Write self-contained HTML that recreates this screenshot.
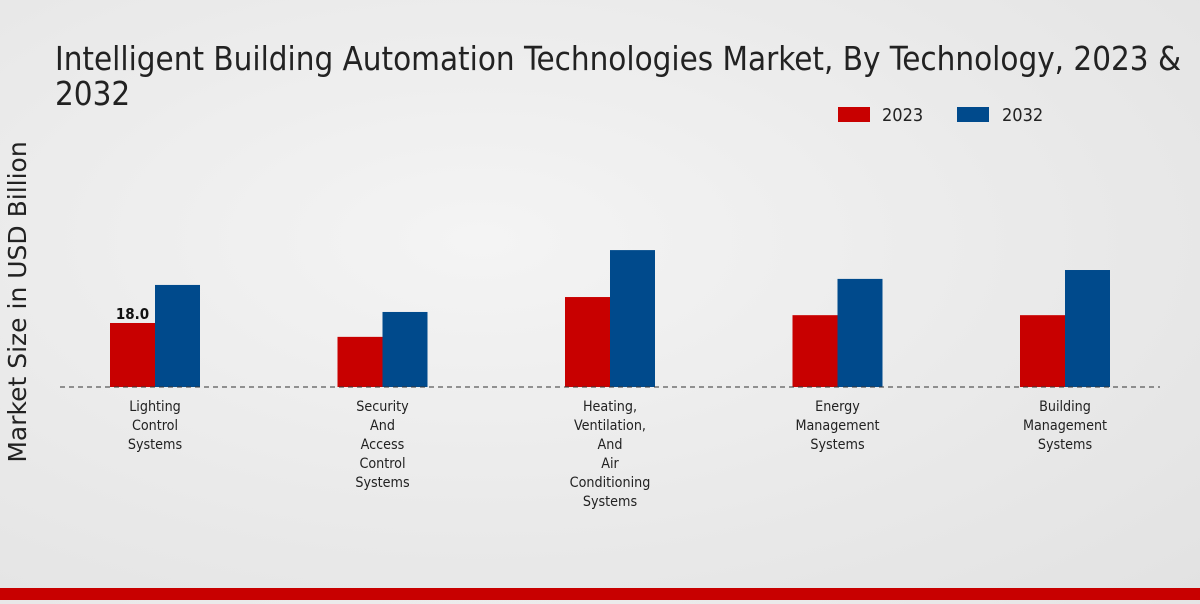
<!DOCTYPE html>
<html><head><meta charset="utf-8">
<style>
html,body{margin:0;padding:0;}
body{width:1200px;height:600px;overflow:hidden;background:radial-gradient(ellipse at 40% 40%,#f4f4f4 0%,#e9e9e9 60%,#e2e2e2 100%);font-family:"DejaVu Sans Condensed","DejaVu Sans","Liberation Sans",sans-serif;font-stretch:condensed;}
svg text{font-family:"DejaVu Sans Condensed","DejaVu Sans","Liberation Sans",sans-serif;font-stretch:condensed;}
</style></head>
<body>
<svg id="chart" width="1200" height="600" xmlns="http://www.w3.org/2000/svg">
<text x="55" y="70" font-size="32.85" fill="#222">Intelligent Building Automation Technologies Market, By Technology, 2023 &amp;</text>
<text x="55" y="105" font-size="32.85" fill="#222">2032</text>
<text transform="translate(26,302) rotate(-90)" text-anchor="middle" font-size="25" fill="#222" style="font-family:'DejaVu Sans',sans-serif;font-stretch:normal">Market Size in USD Billion</text>
<g>
<rect x="838" y="107" width="32" height="15" fill="#c80000"/>
<text x="882" y="121" font-size="18" fill="#222">2023</text>
<rect x="957" y="107" width="32" height="15" fill="#004a8c"/>
<text x="1002" y="121" font-size="18" fill="#222">2032</text>
</g>
<g id="bars"></g>
<line x1="60" y1="387" x2="1160" y2="387" stroke="#333" stroke-width="1" stroke-dasharray="5,4"/>
<g id="labels"></g>
<rect x="0" y="588" width="1200" height="12" fill="#c80000"/>
</svg>
<script>
const categories=[["Lighting","Control","Systems"],["Security","And","Access","Control","Systems"],["Heating,","Ventilation,","And","Air","Conditioning","Systems"],["Energy","Management","Systems"],["Building","Management","Systems"]];
const values2023=[18.0,14.1,25.3,20.2,20.2];
const values2032=[28.7,21.1,38.5,30.4,32.9];
const printedLabels=["18.0",null,null,null,null];
const NS="http://www.w3.org/2000/svg";
const baseY=387,pxPerUnit=3.556,firstX=155,step=227.5,bw=45;
const yScale=v=>baseY-v*pxPerUnit;
const xCenter=i=>firstX+i*step;
const bars=document.getElementById('bars'),labels=document.getElementById('labels');
categories.forEach((c,i)=>{
  [[values2023,"#c80000",-bw,"bar-2023"],[values2032,"#004a8c",0,"bar-2032"]].forEach(([arr,col,off,nm])=>{
    const r=document.createElementNS(NS,'rect');
    
    
    r.setAttribute('x',xCenter(i)+off);r.setAttribute('y',yScale(arr[i]));
    r.setAttribute('width',bw);r.setAttribute('height',baseY-yScale(arr[i]));
    r.setAttribute('fill',col);bars.appendChild(r);
  });
  if(printedLabels[i]){
    const t=document.createElementNS(NS,'text');
    
    
    t.setAttribute('x',xCenter(i)-bw/2);t.setAttribute('y',yScale(values2023[i])-4);
    t.setAttribute('text-anchor','middle');t.setAttribute('font-size','15');t.setAttribute('font-weight','bold');t.setAttribute('fill','#111');
    t.textContent=printedLabels[i];bars.appendChild(t);
  }
  c.forEach((line,j)=>{
    const t=document.createElementNS(NS,'text');
    
    
    t.setAttribute('x',xCenter(i));t.setAttribute('y',411+j*19);
    t.setAttribute('text-anchor','middle');t.setAttribute('font-size','14.2');t.setAttribute('fill','#222');
    t.textContent=line;labels.appendChild(t);
  });
});
</script>
</body></html>
